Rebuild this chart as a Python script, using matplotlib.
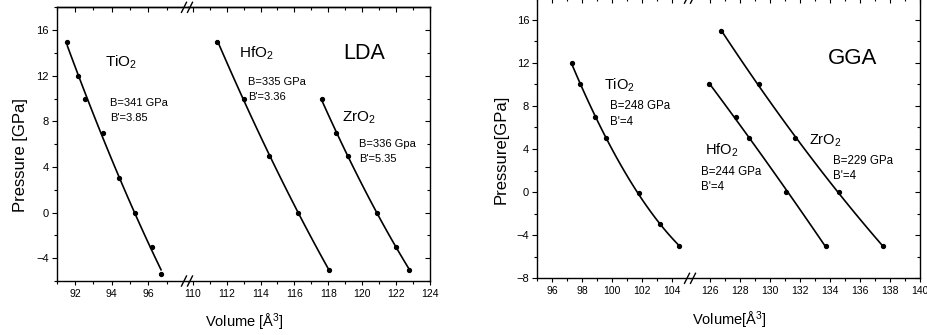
import numpy as np
import matplotlib
matplotlib.use("Agg")
import matplotlib.pyplot as plt
from matplotlib.lines import Line2D

plt.rcParams["font.family"] = ["Liberation Sans", "DejaVu Sans"]
plt.rcParams["mathtext.default"] = "regular"

W, H = 928, 335

# ---- LDA points (volume in A^3, pressure in GPa) ----
lda_tio2_v = [91.58, 92.15, 92.53, 93.51, 94.38, 95.27, 96.22, 96.69]
lda_tio2_p = [15, 12, 10, 7, 3, 0, -3, -5.4]
lda_hfo2_v = [111.46, 113.0, 114.51, 116.22, 118.03]
lda_hfo2_p = [15, 10, 5, 0, -5]
lda_zro2_v = [117.60, 118.43, 119.15, 120.88, 121.99, 122.77]
lda_zro2_p = [10, 7, 5, 0, -3, -5]

# ---- GGA points ----
gga_tio2_v = [97.33, 97.83, 98.83, 99.6, 101.78, 103.2, 104.45]
gga_tio2_p = [12, 10, 7, 5, -0.1, -3, -5]
gga_hfo2_v = [125.93, 127.75, 128.62, 131.09, 133.71]
gga_hfo2_p = [10, 7, 5, 0, -5]
gga_zro2_v = [126.73, 129.29, 131.65, 134.58, 137.51]
gga_zro2_p = [15, 10, 5, 0, -5]

# tick values
lda_xl_major = [92, 94, 96]
lda_xl_minor = [91, 93, 95, 97]
lda_xr_major = [110, 112, 114, 116, 118, 120, 122, 124]
lda_xr_minor = [111, 113, 115, 117, 119, 121, 123]
lda_y_major = [-4, 0, 4, 8, 12, 16]
lda_y_minor = [-6, -2, 2, 6, 10, 14, 18]
gga_xl_major = [96, 98, 100, 102, 104]
gga_xl_minor = [95, 97, 99, 101, 103]
gga_xr_major = [126, 128, 130, 132, 134, 136, 138, 140]
gga_xr_minor = [127, 129, 131, 133, 135, 137, 139]
gga_y_major = [-8, -4, 0, 4, 8, 12, 16]
gga_y_minor = [-6, -2, 2, 6, 10, 14, 18]


def fx(px):
    return px / W


def fy(py):
    return 1 - py / H


def make_pair(fig, x0, xb, x1, ytop, ybot, xl_lim, xr_lim, ylim):
    b = fy(ybot)
    h = (ybot - ytop) / H
    axl = fig.add_axes([fx(x0), b, fx(xb) - fx(x0), h])
    axr = fig.add_axes([fx(xb), b, fx(x1) - fx(xb), h])
    axl.set_xlim(*xl_lim)
    axr.set_xlim(*xr_lim)
    for ax in (axl, axr):
        ax.set_ylim(*ylim)
        for s in ax.spines.values():
            s.set_linewidth(1.0)
        ax.tick_params(axis="x", which="both", direction="out", top=False, labelsize=7.5, pad=2.5, width=0.8)
        ax.tick_params(axis="x", which="major", length=3.2)
        ax.tick_params(axis="x", which="minor", length=2.0)
    axl.spines["right"].set_visible(False)
    axr.spines["left"].set_visible(False)
    axl.tick_params(axis="y", which="both", direction="out", left=True, right=False, labelsize=8, pad=2, width=0.8)
    axl.tick_params(axis="y", which="major", length=3.8)
    axl.tick_params(axis="y", which="minor", length=2.2)
    axr.tick_params(axis="y", which="both", direction="in", left=False, right=True, labelleft=False, width=0.8)
    axr.tick_params(axis="y", which="major", length=3.8)
    axr.tick_params(axis="y", which="minor", length=2.2)
    return axl, axr


def set_ticks(ax, major, minor, ymajor, yminor):
    ax.set_xticks(major)
    ax.set_xticks(minor, minor=True)
    ax.set_yticks(ymajor)
    ax.set_yticks(yminor, minor=True)
    top = ax.secondary_xaxis("top")
    top.set_xticks(major)
    top.set_xticks(minor, minor=True)
    top.tick_params(axis="x", which="both", direction="in", labeltop=False, width=0.8)
    top.tick_params(axis="x", which="major", length=3.5)
    top.tick_params(axis="x", which="minor", length=2.2)
    top.spines["top"].set_linewidth(1.0)


def draw_fit(ax, v, p):
    # smooth fitted curve through the points (quadratic least squares)
    coef = np.polyfit(v, p, 2)
    vv = np.linspace(min(v), max(v), 100)
    ax.plot(vv, np.polyval(coef, vv), color="black", lw=1.2)
    ax.plot(v, p, "o", color="black", ms=2.8)


def break_marks(fig, xc, ys):
    for y in ys:
        for dx in (-3, 3):
            fig.add_artist(Line2D([fx(xc + dx - 2.5), fx(xc + dx + 2.5)],
                                  [fy(y + 5), fy(y - 5)], color="black", lw=1.0))


fig = plt.figure(figsize=(W / 100, H / 100), dpi=100)

# ---------- LDA ----------
al, ar = make_pair(fig, 56.7, 188, 430, 7.3, 281, (91, 98.16), (109.72, 124), (-6, 18))
set_ticks(al, lda_xl_major, lda_xl_minor, lda_y_major, lda_y_minor)
set_ticks(ar, lda_xr_major, lda_xr_minor, lda_y_major, lda_y_minor)
draw_fit(al, lda_tio2_v, lda_tio2_p)
draw_fit(ar, lda_hfo2_v, lda_hfo2_p)
draw_fit(ar, lda_zro2_v, lda_zro2_p)

al.text(93.64, 12.77, "TiO$_2$", fontsize=11)
al.text(93.91, 9.32, "B=341 GPa", fontsize=8)
al.text(93.91, 8.0, "B'=3.85", fontsize=8)
ar.text(112.74, 13.6, "HfO$_2$", fontsize=11)
ar.text(113.27, 11.17, "B=335 GPa", fontsize=8)
ar.text(113.27, 9.85, "B'=3.36", fontsize=8)
ar.text(118.88, 13.5, "LDA", fontsize=15.5)
ar.text(118.78, 7.95, "ZrO$_2$", fontsize=11)
ar.text(119.8, 5.75, "B=336 Gpa", fontsize=8)
ar.text(119.8, 4.44, "B'=5.35", fontsize=8)

fig.text(fx(20.7), fy(155), "Pressure [GPa]", rotation=90, ha="center", va="center", fontsize=12)
fig.text(fx(244), fy(327), "Volume [Å$^3$]", ha="center", va="baseline", fontsize=10.5)
break_marks(fig, 187, [7.3, 281])

# ---------- GGA ----------
gl, gr = make_pair(fig, 537.3, 690, 920, -1.8, 278.3, (95, 105.18), (124.67, 140), (-8, 18))
set_ticks(gl, gga_xl_major, gga_xl_minor, gga_y_major, gga_y_minor)
set_ticks(gr, gga_xr_major, gga_xr_minor, gga_y_major, gga_y_minor)
draw_fit(gl, gga_tio2_v, gga_tio2_p)
draw_fit(gr, gga_hfo2_v, gga_hfo2_p)
draw_fit(gr, gga_zro2_v, gga_zro2_p)

gl.text(99.45, 9.48, "TiO$_2$", fontsize=10.5)
gl.text(99.85, 7.68, "B=248 GPa", fontsize=8.3)
gl.text(99.85, 6.26, "B'=4", fontsize=8.3)
gr.text(133.89, 11.9, "GGA", fontsize=16)
gr.text(125.67, 3.44, "HfO$_2$", fontsize=10.5)
gr.text(125.38, 1.58, "B=244 GPa", fontsize=8.3)
gr.text(125.38, 0.19, "B'=4", fontsize=8.3)
gr.text(132.6, 4.37, "ZrO$_2$", fontsize=10.5)
gr.text(134.2, 2.6, "B=229 GPa", fontsize=8.3)
gr.text(134.2, 1.21, "B'=4", fontsize=8.3)

fig.text(fx(500.7), fy(149), "Pressure[GPa]", rotation=90, ha="center", va="center", fontsize=12)
fig.text(fx(729.7), fy(325), "Volume[Å$^3$]", ha="center", va="baseline", fontsize=10.5)
break_marks(fig, 690, [-1.8, 278.3])

fig.savefig("out.png", dpi=100)
